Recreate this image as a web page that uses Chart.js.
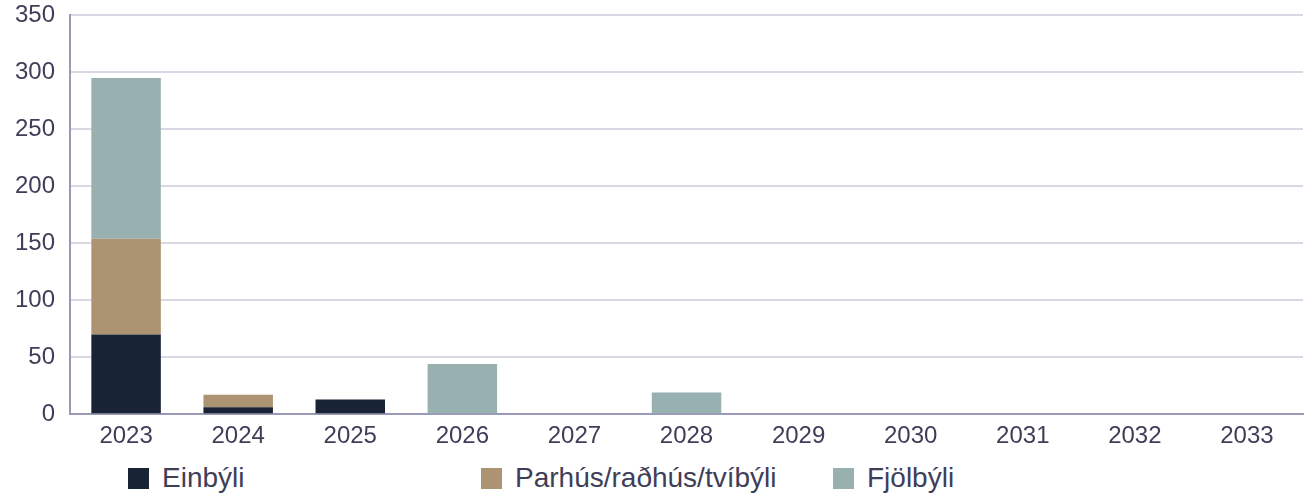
<!DOCTYPE html>
<html>
<head>
<meta charset="utf-8">
<script src="https://cdn.jsdelivr.net/npm/chart.js@4"></script>
<style>
  html, body { margin: 0; padding: 0; background: #fff; }
  body { width: 1311px; height: 499px; overflow: hidden; position: relative; font-family: "Liberation Sans", Arial, sans-serif; }
  #wrap { position: absolute; top: -14px; left: 0; width: 1311px; height: 473px; }
  #legend { position: absolute; top: 462px; left: 0; width: 1311px; height: 34px; }
  .item { position: absolute; top: 0; display: flex; align-items: center; font-size: 28px; line-height: 32px; color: #3f3e58; }
  .box { width: 21px; height: 21px; margin-right: 13px; }
</style>
</head>
<body>
<div id="wrap"><canvas id="chart"></canvas></div>
<div id="legend"></div>
<script>
document.addEventListener('DOMContentLoaded', () => {
    // data
    const years = ['2023', '2024', '2025', '2026', '2027', '2028', '2029', '2030', '2031', '2032', '2033'];
    const einbyli = [70, 6, 13, 0, 0, 0, 0, 0, 0, 0, 0];
    const parhus = [84, 11, 0, 0, 0, 0, 0, 0, 0, 0, 0];
    const fjolbyli = [141, 0, 0, 44, 0, 19, 0, 0, 0, 0, 0];
    const seriesNames = ['Einbýli', 'Parhús/raðhús/tvíbýli', 'Fjölbýli'];
    const colors = ['#182335', '#ac9371', '#98b0b0'];
    const legendX = [128, 481, 833];

    const textColor = '#3f3e58';
    const font = { family: '"Liberation Sans", Arial, sans-serif', size: 24 };

    new Chart(document.getElementById('chart').getContext('2d'), {
        type: 'bar',
        data: {
            labels: years,
            datasets: [einbyli, parhus, fjolbyli].map((d, i) => ({
                label: seriesNames[i],
                data: d,
                backgroundColor: colors[i],
                borderWidth: 0,
                categoryPercentage: 1,
                barPercentage: 0.62
            }))
        },
        options: {
            responsive: true,
            maintainAspectRatio: false,
            animation: false,
            layout: { padding: { left: 0, right: 8, top: 0, bottom: 0 } },
            plugins: {
                legend: { display: false },
                tooltip: { enabled: false }
            },
            scales: {
                x: {
                    stacked: true,
                    grid: { display: false, drawTicks: false },
                    border: { color: '#9a9ab6', width: 2 },
                    ticks: { color: textColor, font: font, padding: 8, maxRotation: 0 }
                },
                y: {
                    stacked: true,
                    min: 0,
                    max: 350,
                    grid: { color: '#d9d7e4', lineWidth: 2, drawTicks: false },
                    border: { color: '#9a9ab6', width: 2 },
                    ticks: { stepSize: 50, color: textColor, font: font, padding: 15 }
                }
            }
        }
    });

    // legend
    const legend = document.getElementById('legend');
    seriesNames.forEach((name, i) => {
        const item = document.createElement('div');
        item.className = 'item';
        item.style.left = legendX[i] + 'px';
        item.innerHTML = '<span class="box" style="background:' + colors[i] + '"></span>' + name;
        legend.appendChild(item);
    });
});
</script>
</body>
</html>
